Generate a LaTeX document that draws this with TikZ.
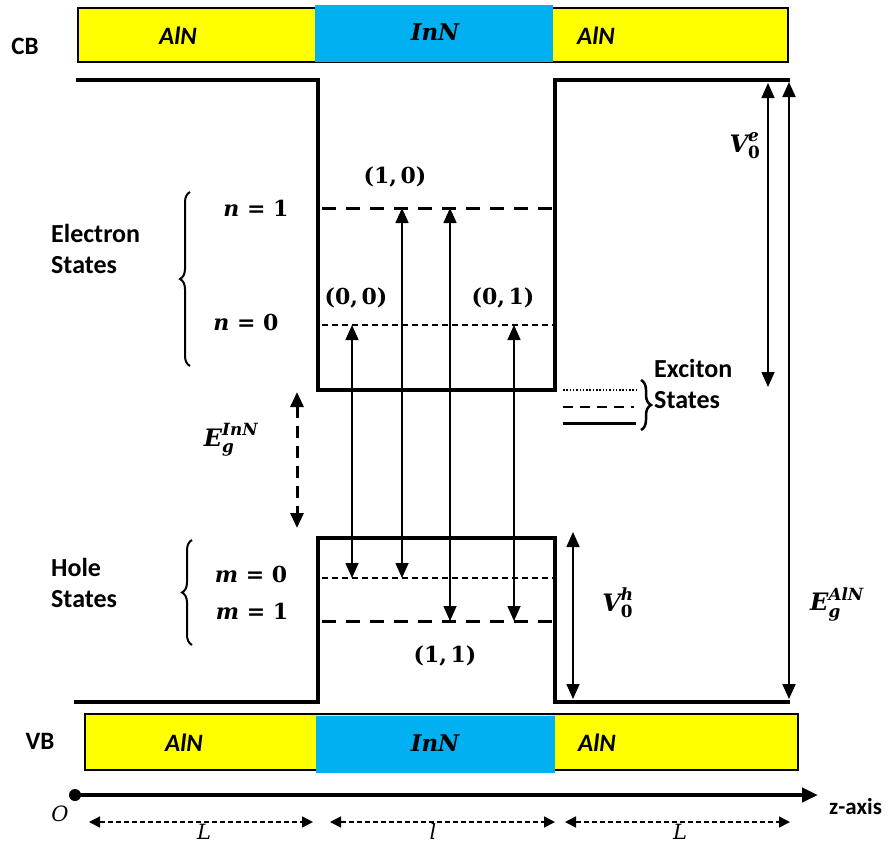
\documentclass[tikz,border=0pt]{standalone}
\usepackage{amsmath}
\usepackage{fontspec}
\setmainfont{Carlito}
\newfontfamily\cmath{DejaVu Serif}
\newcommand\mbi[1]{\text{\cmath\bfseries\itshape #1}}
\newcommand\mbu[1]{\text{\cmath\bfseries #1}}
\usetikzlibrary{arrows.meta,decorations.pathreplacing}
\definecolor{barY}{HTML}{FFFF00}
\definecolor{barC}{HTML}{00B0F0}
\tikzset{
  band/.style={line width=4pt, line cap=rect},
  lvlthick/.style={line width=3pt, dash pattern=on 14pt off 10pt},
  lvlthin/.style={line width=1.5pt, dash pattern=on 6pt off 4pt},
  tip/.tip={Triangle[length=15pt,width=13pt]},
  trans/.style={line width=1.6pt, tip-tip},
  lbl/.style={font=\fontsize{26}{31}\selectfont\bfseries, inner sep=0pt},
  albl/.style={font=\fontsize{25}{28}\selectfont\bfseries\itshape, inner sep=0pt},
  mlbl/.style={font=\fontsize{22}{26}\selectfont\cmath\bfseries, inner sep=0pt},
  slbl/.style={font=\fontsize{24}{28}\selectfont\cmath\bfseries, inner sep=0pt},
  ilbl/.style={font=\fontsize{21}{25}\selectfont\cmath\itshape, inner sep=0pt},
  barbox/.style={draw, line width=1.5pt, fill=barY},
  brc/.style={decorate, decoration={brace, amplitude=10pt}, line width=2pt},
}
\begin{document}
\begin{tikzpicture}[x=1pt,y=-1pt]
\useasboundingbox (0,0) rectangle (893,847);
% CB bar
\draw[barbox] (78,8) rectangle (788,62);
\fill[barC] (315,5) rectangle (553,62);
\node[lbl, font=\fontsize{25}{29}\selectfont\bfseries] (cb) at (25,46) {CB};
\node[albl] (cbl) at (178,36) {AlN};
\node[mlbl, font=\fontsize{23}{27}\selectfont\cmath\bfseries\itshape] (cbm) at (435,32) {InN};
\node[albl] (cbr) at (596,36) {AlN};
% conduction band profile
\draw[band] (78,80) -- (318,80) -- (318,390) -- (555,390) -- (555,80) -- (788,80);
% valence band profile
\draw[band] (76,702) -- (318,702) -- (318,538) -- (555,538) -- (555,702) -- (788,702);
% electron levels
\coordinate (n1L) at (322,208); \coordinate (n1R) at (553,208);
\coordinate (n0L) at (322,325); \coordinate (n0R) at (553,325);
\draw[lvlthick] (n1L) -- (n1R);
\draw[lvlthin] (n0L) -- (n0R);
% hole levels
\coordinate (m0L) at (322,578); \coordinate (m0R) at (553,578);
\coordinate (m1L) at (322,621); \coordinate (m1R) at (553,621);
\draw[lvlthin] (m0L) -- (m0R);
\draw[lvlthick] (m1L) -- (m1R);
% level labels
\node[mlbl] (ln1) at (256,208) {{\itshape n} = 1};
\node[mlbl] (ln0) at (246,322) {{\itshape n} = 0};
\node[mlbl] (lm0) at (251,574) {{\itshape m} = 0};
\node[mlbl] (lm1) at (252,611) {{\itshape m} = 1};
\node[mlbl] (l10) at (395,177) {(1,\,0)};
\node[mlbl] (l00) at (356,298) {(0,\,0)};
\node[mlbl] (l01) at (503,298) {(0,\,1)};
\node[mlbl] (l11) at (445,656) {(1,\,1)};
% transitions
\coordinate (a1t) at (352,325); \coordinate (a1b) at (352,578);
\coordinate (a2t) at (402,208); \coordinate (a2b) at (402,578);
\coordinate (a3t) at (450,208); \coordinate (a3b) at (450,621);
\coordinate (a4t) at (514,325); \coordinate (a4b) at (514,621);
\draw[trans] (a1b) -- (a1t);
\draw[trans] (a2b) -- (a2t);
\draw[trans] (a3b) -- (a3t);
\draw[trans] (a4b) -- (a4t);
% braces and state labels
\draw[brc] (190,366) -- (190,192);
\node[lbl, align=left, anchor=west] (es) at (51,249) {Electron\\States};
\draw[brc] (192,645) -- (192,540);
\node[lbl, align=left, anchor=west] (hs) at (51,583) {Hole\\States};
% exciton states
\draw[line width=1.5pt, dash pattern=on 1.5pt off 1.8pt] (563,390) -- (636,390);
\draw[line width=2pt, dash pattern=on 10pt off 7pt] (563,407) -- (634,407);
\draw[line width=3pt] (563,423) -- (636,423);
\draw[brc, line width=2.5pt] (641,380) -- (641,430);
\node[lbl, align=left, anchor=west] (xs) at (654,384) {Exciton\\States};
% gap arrows
\coordinate (gt) at (297,392); \coordinate (gb) at (297,528);
\draw[line width=3pt, dash pattern=on 12pt off 8pt, tip-tip] (gt) -- (gb);
\node[slbl] (egin) at (231,440) {$\mbi{E}_{\mbi{g}}^{\mbi{InN}}$};
\coordinate (vht) at (573,532); \coordinate (vhb) at (573,699);
\draw[trans] (vht) -- (vhb);
\node[slbl] (vh) at (618,603) {$\mbi{V}_{\mbu{0}}^{\mbi{h}}$};
\coordinate (vet) at (768,83); \coordinate (veb) at (768,387);
\draw[trans] (vet) -- (veb);
\node[slbl] (ve) at (745,146) {$\mbi{V}_{\mbu{0}}^{\mbi{e}}$};
\coordinate (agt) at (789,82); \coordinate (agb) at (789,699);
\draw[line width=2pt, tip-tip] (agt) -- (agb);
\node[slbl] (egal) at (837,604) {$\mbi{E}_{\mbi{g}}^{\mbi{AlN}}$};
% VB bar
\draw[barbox] (85,714) rectangle (798,770);
\fill[barC] (316,716) rectangle (555,773);
\node[lbl, font=\fontsize{25}{29}\selectfont\bfseries] (vb) at (40,741) {VB};
\node[albl] (vbl) at (184,743) {AlN};
\node[mlbl, font=\fontsize{23}{27}\selectfont\cmath\bfseries\itshape] (vbm) at (435,743) {InN};
\node[albl] (vbr) at (597,743) {AlN};
% z axis
\coordinate (o) at (75,795);
\coordinate (zend) at (818,795);
\fill (o) circle (6pt);
\draw[line width=4pt, -{Triangle[length=16pt,width=14pt]}] (o) -- (zend);
\node[lbl, font=\fontsize{23}{27}\selectfont\bfseries, anchor=west] (zl) at (829,806) {z-axis};
\node[ilbl] (ol) at (60,814) {O};
% dimension arrows
\tikzset{dim/.style={line width=1.5pt, dash pattern=on 5pt off 3pt, {Triangle[length=11pt,width=11pt]}-{Triangle[length=11pt,width=11pt]}}}
\coordinate (d1a) at (89,822); \coordinate (d1b) at (313,822);
\coordinate (d2a) at (330,822); \coordinate (d2b) at (555,822);
\coordinate (d3a) at (565,822); \coordinate (d3b) at (790,822);
\draw[dim] (d1a) -- (d1b);
\draw[dim] (d2a) -- (d2b);
\draw[dim] (d3a) -- (d3b);
\node[ilbl] (Ll) at (204,832) {L};
\node[ilbl] (ll) at (433,832) {l};
\node[ilbl] (Lr) at (680,832) {L};
\end{tikzpicture}
\end{document}
